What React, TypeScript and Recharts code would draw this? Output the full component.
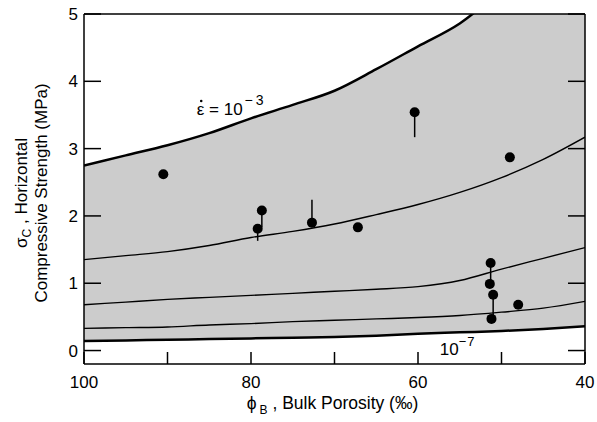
import React from 'react';
import { ComposedChart, Area, Line, Scatter, ErrorBar, XAxis, YAxis, ReferenceDot } from 'recharts';

// bulk porosity grid the strain-rate curves are read at
const porosity = [100, 95, 90, 85, 80, 75, 70, 65, 60, 55, 50, 45, 40];
// strength curves, top (1e-3) to bottom (1e-7)
const rate3 = [2.75, 2.9, 3.05, 3.23, 3.45, 3.65, 3.86, 4.18, 4.52, 4.86, 5.35, 5.85, 6.35];
const rate4 = [1.35, 1.41, 1.47, 1.56, 1.68, 1.77, 1.88, 2.02, 2.17, 2.35, 2.57, 2.84, 3.17];
const rate5 = [0.68, 0.72, 0.76, 0.79, 0.82, 0.85, 0.88, 0.91, 0.95, 1.04, 1.21, 1.37, 1.53];
const rate6 = [0.33, 0.34, 0.35, 0.38, 0.4, 0.43, 0.45, 0.47, 0.49, 0.52, 0.57, 0.63, 0.73];
const rate7 = [0.14, 0.15, 0.16, 0.17, 0.18, 0.19, 0.2, 0.22, 0.25, 0.27, 0.29, 0.32, 0.36];

// measured samples
const sampleX = [90.5, 79.2, 78.7, 72.7, 67.2, 60.4, 51.3, 51.4, 51.0, 51.2, 49.0, 48.0];
const sampleY = [2.62, 1.81, 2.08, 1.9, 1.83, 3.54, 1.3, 0.99, 0.83, 0.47, 2.87, 0.68];
const errDown = [0, 0.18, 0.25, 0, 0, 0.37, 0.27, 0, 0.33, 0, 0, 0];
const errUp = [0, 0, 0, 0.34, 0, 0, 0, 0, 0, 0, 0, 0];

const xTicks = [100, 90, 80, 70, 60, 50, 40];
const xTickLabels = [100, 80, 60, 40];
const yTicks = [0, 1, 2, 3, 4, 5];

const curves = porosity.map((x, i) => ({
  x,
  r3: rate3[i],
  r4: rate4[i],
  r5: rate5[i],
  r6: rate6[i],
  r7: rate7[i],
  band: [rate7[i], rate3[i]],
}));

const samples = sampleX.map((x, i) => ({ x, y: sampleY[i], err: [errDown[i], errUp[i]] }));

const font = "'Liberation Sans', Arial, Helvetica, sans-serif";

const XLabel = (props: any) => {
  const { x, y, width } = props.viewBox;
  return (
    <text x={x + width / 2 - 2} y={y + 45} textAnchor="middle" fontSize={17.5} fontFamily={font} fill="#000">
      ϕ<tspan fontSize={12} dx={3} dy={5}>B</tspan>
      <tspan dy={-5}> , Bulk Porosity (‰)</tspan>
    </text>
  );
};

const YLabel = (props: any) => {
  const { x, y, height } = props.viewBox;
  const cy = y + height / 2 + 4;
  return (
    <g fontFamily={font} fontSize={17} fill="#000">
      <text transform={`translate(${x + 27}, ${cy}) rotate(-90)`} textAnchor="middle">
        σ<tspan fontSize={12} dy={4}>C</tspan>
        <tspan dy={-4}> , Horizontal</tspan>
      </text>
      <text transform={`translate(${x + 47}, ${cy}) rotate(-90)`} textAnchor="middle">
        Compressive Strength (MPa)
      </text>
    </g>
  );
};

// strain-rate label; the small circle is the time-derivative dot over epsilon
const EpsLabel = (props: any) => {
  const { x, y } = props.viewBox;
  return (
    <g>
      <circle cx={x + 4.5} cy={y - 14} r={1.3} fill="#000" />
      <text x={x} y={y} fontSize={17} fontFamily={font} fill="#000">
        ε = 10
        <tspan fontSize={14} dx={2} dy={-10}>−</tspan>
        <tspan fontSize={14} dx={3}>3</tspan>
      </text>
    </g>
  );
};

const LowLabel = (props: any) => {
  const { x, y } = props.viewBox;
  return (
    <text x={x} y={y} fontSize={17} fontFamily={font} fill="#000">
      10
      <tspan fontSize={13} dy={-9}>−</tspan>
      <tspan fontSize={13} dx={1}>7</tspan>
    </text>
  );
};

const Dot = (props: any) => <circle cx={props.cx} cy={props.cy} r={5} fill="#000" />;

export default function App() {
  const tickStyle = { fill: '#000', fontSize: 17, fontFamily: font };
  return (
    <div style={{ position: 'absolute', left: 0, top: 0, width: 597, height: 422, background: '#fff' }}>
      <ComposedChart width={597} height={422} data={curves} margin={{ top: 0, right: 0, bottom: 0, left: 0 }}>
        <XAxis
          dataKey="x"
          type="number"
          domain={[40, 100]}
          reversed
          allowDataOverflow
          ticks={xTicks}
          tickFormatter={(v: number) => (xTickLabels.includes(v) ? String(v) : '')}
          tickSize={-12}
          tickMargin={24}
          height={58}
          stroke="#000"
          strokeWidth={1.5}
          tick={tickStyle}
          label={<XLabel />}
        />
        <XAxis
          xAxisId="t"
          orientation="top"
          type="number"
          domain={[40, 100]}
          reversed
          allowDataOverflow
          ticks={xTicks}
          tickFormatter={() => ''}
          tickSize={-13}
          height={14}
          stroke="#000"
          strokeWidth={1.5}
        />
        <YAxis
          type="number"
          domain={[-0.2, 5]}
          allowDataOverflow
          ticks={yTicks}
          tickSize={-17}
          tickMargin={23}
          width={84}
          stroke="#000"
          strokeWidth={1.5}
          tick={tickStyle}
          label={<YLabel />}
        />
        <YAxis
          yAxisId="r"
          orientation="right"
          type="number"
          domain={[-0.2, 5]}
          allowDataOverflow
          ticks={yTicks}
          tickFormatter={() => ''}
          tickSize={-17}
          width={12}
          stroke="#000"
          strokeWidth={1.5}
        />
        <Area dataKey="band" type="monotone" fill="#cccccc" fillOpacity={1} stroke="none" isAnimationActive={false} />
        <Line dataKey="r3" type="monotone" stroke="#000" strokeWidth={2.5} dot={false} isAnimationActive={false} />
        <Line dataKey="r4" type="monotone" stroke="#000" strokeWidth={1.4} dot={false} isAnimationActive={false} />
        <Line dataKey="r5" type="monotone" stroke="#000" strokeWidth={1.4} dot={false} isAnimationActive={false} />
        <Line dataKey="r6" type="monotone" stroke="#000" strokeWidth={1.4} dot={false} isAnimationActive={false} />
        <Line dataKey="r7" type="monotone" stroke="#000" strokeWidth={2.5} dot={false} isAnimationActive={false} />
        <Scatter data={samples} dataKey="y" shape={Dot} isAnimationActive={false}>
          <ErrorBar dataKey="err" direction="y" width={0} stroke="#000" strokeWidth={1.5} isAnimationActive={false} />
        </Scatter>
        <ReferenceDot x={86.5} y={3.5} r={0} fill="none" stroke="none" label={EpsLabel} />
        <ReferenceDot x={57.4} y={-0.07} r={0} fill="none" stroke="none" label={LowLabel} />
      </ComposedChart>
    </div>
  );
}
